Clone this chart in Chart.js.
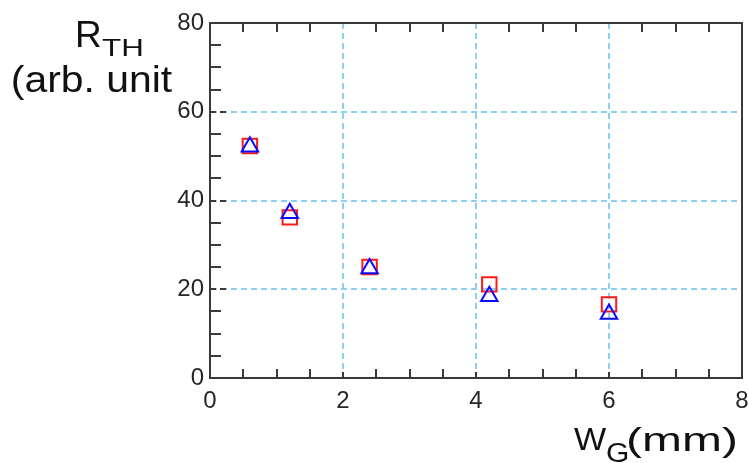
<!DOCTYPE html>
<html>
<head>
<meta charset="utf-8">
<script src="https://cdn.jsdelivr.net/npm/chart.js@4/dist/chart.umd.min.js"></script>
<style>
  html, body { margin: 0; padding: 0; background: #ffffff; }
  #wrap { position: relative; width: 748px; height: 463px; }
</style>
</head>
<body>
<div id="wrap"><canvas id="c" width="748" height="463"></canvas></div>
<script>
// Gate width W_G (mm) and thermal resistance R_TH (arb. unit)
const gateWidths = [0.6, 1.2, 2.4, 4.2, 6.0];
const rthSquares = [52.3, 36.2, 25.0, 21.1, 16.6];
const rthTriangles = [52.1, 37.1, 24.7, 18.4, 14.4];

const xTicks = [0, 2, 4, 6, 8];
const yTicks = [0, 20, 40, 60, 80];
const xMinorStep = 0.5;
const yMinorStep = 5;

const FRAME = '#3a3a3a';
const GRID = '#8ccff0';
const FONT = '"Liberation Sans", Arial, sans-serif';

function toPoints(xs, ys) {
  return xs.map((x, i) => ({ x: x, y: ys[i] }));
}

// Draw a text piece so that its ink spans a given width
function fittedText(ctx, text, size, inkLeft, baseline, inkWidth) {
  ctx.save();
  ctx.font = size + 'px ' + FONT;
  ctx.textAlign = 'left';
  ctx.textBaseline = 'alphabetic';
  const m = ctx.measureText(text);
  const ink = m.actualBoundingBoxLeft + m.actualBoundingBoxRight;
  const s = inkWidth / ink;
  ctx.translate(inkLeft + m.actualBoundingBoxLeft * s, baseline);
  ctx.scale(s, 1);
  ctx.fillStyle = '#111111';
  ctx.fillText(text, 0, 0);
  ctx.restore();
}

// Frame (top/right), inward tick marks and axis titles
const decorations = {
  id: 'decorations',
  afterDatasetsDraw(chart) {
    const ctx = chart.ctx;
    const a = chart.chartArea;
    const xs = chart.scales.x;
    const ys = chart.scales.y;

    ctx.save();
    ctx.strokeStyle = FRAME;
    ctx.lineWidth = 2;
    ctx.beginPath();
    ctx.moveTo(a.left, a.top);
    ctx.lineTo(a.right, a.top);
    ctx.lineTo(a.right, a.bottom);
    ctx.stroke();

    // minor ticks along x (top and bottom)
    ctx.beginPath();
    for (let v = xs.min + xMinorStep; v < xs.max; v += xMinorStep) {
      if (xTicks.includes(Math.round(v * 10) / 10)) continue;
      const px = Math.round(xs.getPixelForValue(v));
      ctx.moveTo(px, a.bottom);
      ctx.lineTo(px, a.bottom - 9);
      ctx.moveTo(px, a.top);
      ctx.lineTo(px, a.top + 9);
    }
    // minor ticks along y (left)
    for (let v = ys.min + yMinorStep; v < ys.max; v += yMinorStep) {
      if (yTicks.includes(Math.round(v))) continue;
      const py = Math.round(ys.getPixelForValue(v));
      ctx.moveTo(a.left, py);
      ctx.lineTo(a.left + 11, py);
    }
    ctx.stroke();

    // dashed major ticks
    ctx.setLineDash([6, 4]);
    ctx.beginPath();
    xTicks.slice(1, -1).forEach(v => {
      const px = Math.round(xs.getPixelForValue(v));
      ctx.moveTo(px, a.bottom);
      ctx.lineTo(px, a.bottom - 9);
    });
    yTicks.slice(1, -1).forEach(v => {
      const py = Math.round(ys.getPixelForValue(v));
      ctx.moveTo(a.left, py);
      ctx.lineTo(a.left + 17, py);
    });
    ctx.stroke();
    ctx.restore();

    // axis titles
    fittedText(ctx, 'R', 37, 78, 47, 22);
    fittedText(ctx, 'TH', 24, 102, 56, 40);
    fittedText(ctx, '(arb. unit', 37, 13, 92, 160);
    fittedText(ctx, 'W', 31, 574, 450, 33);
    fittedText(ctx, 'G', 27, 607, 462, 20);
    fittedText(ctx, '(mm)', 33, 629, 451, 106);
  }
};

const gridColor = (lo, hi) => (c) =>
  (c.tick && (c.tick.value === lo || c.tick.value === hi)) ? 'rgba(0,0,0,0)' : GRID;

new Chart(document.getElementById('c'), {
  type: 'scatter',
  data: {
    datasets: [
      {
        label: 'triangle',
        data: toPoints(gateWidths, rthTriangles),
        pointStyle: 'triangle',
        pointRadius: 9.5,
        pointHoverRadius: 9.5,
        borderColor: '#0a0aff',
        backgroundColor: 'rgba(0,0,0,0)',
        borderWidth: 2,
        showLine: false
      },
      {
        label: 'square',
        data: toPoints(gateWidths, rthSquares),
        pointStyle: 'rect',
        pointRadius: 10.2,
        pointHoverRadius: 10.2,
        borderColor: '#ff1a1a',
        backgroundColor: 'rgba(0,0,0,0)',
        borderWidth: 2,
        showLine: false
      }
    ]
  },
  options: {
    responsive: false,
    animation: false,
    events: [],
    layout: { autoPadding: false, padding: { left: 0, top: 23, right: 6, bottom: 0 } },
    plugins: {
      legend: { display: false },
      tooltip: { enabled: false },
      title: { display: false }
    },
    scales: {
      x: {
        type: 'linear',
        min: 0,
        max: 8,
        afterBuildTicks: (s) => { s.ticks = xTicks.map(v => ({ value: v })); },
        afterFit: (s) => { s.height = 85; s.paddingRight = 0; s.paddingLeft = 0; },
        ticks: {
          font: { family: FONT, size: 24 },
          color: '#262626',
          padding: 9,
          maxRotation: 0,
          autoSkip: false
        },
        grid: {
          color: gridColor(0, 8),
          lineWidth: 2,
          drawTicks: false
        },
        border: { display: true, color: FRAME, width: 2, dash: [6, 4] }
      },
      y: {
        type: 'linear',
        min: 0,
        max: 80,
        afterBuildTicks: (s) => { s.ticks = yTicks.map(v => ({ value: v })); },
        afterFit: (s) => { s.width = 210; s.paddingTop = 0; s.paddingBottom = 0; },
        ticks: {
          font: { family: FONT, size: 24 },
          color: '#262626',
          padding: 6,
          autoSkip: false
        },
        grid: {
          color: gridColor(0, 80),
          lineWidth: 2,
          drawTicks: false
        },
        border: { display: true, color: FRAME, width: 2, dash: [6, 4] }
      }
    }
  },
  plugins: [decorations]
});
</script>
</body>
</html>
